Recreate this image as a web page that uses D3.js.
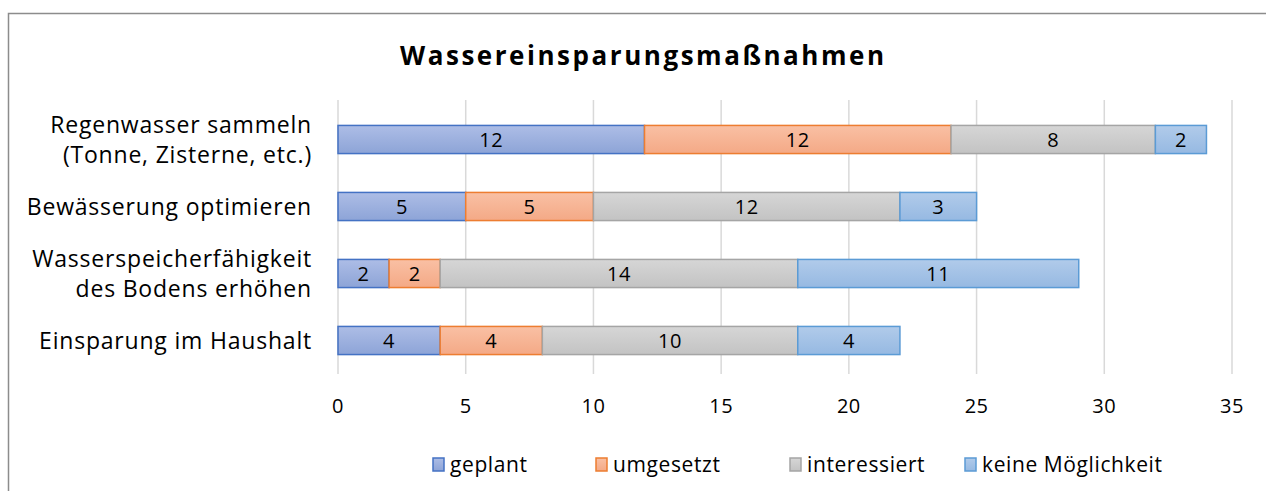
<!DOCTYPE html>
<meta charset="utf-8">
<style>
body { margin: 0; background: #fff; }
svg text { font-family: "Open Sans", "Noto Sans", sans-serif; fill: #000; }
.legend text { font-family: "Liberation Sans Narrow", "Open Sans", sans-serif; }
</style>
<svg width="1266" height="491"></svg>
<script src="https://cdn.jsdelivr.net/npm/d3@7"></script>
<script>
var categories = ["Regenwasser sammeln|(Tonne, Zisterne, etc.)", "Bewässerung optimieren", "Wasserspeicherfähigkeit|des Bodens erhöhen", "Einsparung im Haushalt"];
var seriesNames = ["geplant", "umgesetzt", "interessiert", "keine Möglichkeit"];
var geplant = [12, 5, 2, 4];
var umgesetzt = [12, 5, 2, 4];
var interessiert = [8, 12, 14, 10];
var keineMoeglichkeit = [2, 3, 11, 4];
var xTicks = [0, 5, 10, 15, 20, 25, 30, 35];

var fills = [["#adbde6", "#8da4d7"], ["#f9c0a4", "#f4a986"], ["#d6d6d6", "#c3c3c3"], ["#b1cbea", "#96b9e2"]];
var strokes = ["#4472c4", "#ed7d31", "#a5a5a5", "#5b9bd5"];

var svg = d3.select("svg");

// chart frame
svg.append("rect").attr("x", 8.5).attr("y", 13.5).attr("width", 1300).attr("height", 500)
  .attr("fill", "none").attr("stroke", "#8c8c8c").attr("stroke-width", 1.5);

var defs = svg.append("defs");
fills.forEach(function(f, i) {
  var g = defs.append("linearGradient").attr("id", "g" + i).attr("x1", 0).attr("y1", 0).attr("x2", 0).attr("y2", 1);
  g.append("stop").attr("offset", "0%").attr("stop-color", f[0]);
  g.append("stop").attr("offset", "100%").attr("stop-color", f[1]);
});

svg.append("text").attr("x", 642).attr("y", 65).attr("text-anchor", "middle")
  .attr("textLength", 484).attr("lengthAdjust", "spacing")
  .style("font-size", "26px").style("font-weight", "bold").text("Wassereinsparungsmaßnahmen");

var x = d3.scaleLinear().domain([0, 35]).range([338, 1232]);
var y = d3.scaleBand().domain(categories).range([106, 374]).paddingInner(0.58).paddingOuter(0.29);

// gridlines
svg.append("g").selectAll("line").data(xTicks).enter().append("line")
  .attr("x1", function(d) { return x(d); }).attr("x2", function(d) { return x(d); })
  .attr("y1", 100).attr("y2", 374)
  .attr("stroke", "#d9d9d9").attr("stroke-width", 1.5);

// tick labels
svg.append("g").selectAll("text").data(xTicks).enter().append("text")
  .attr("x", function(d) { return x(d); }).attr("y", 413).attr("text-anchor", "middle")
  .style("font-size", "20px").style("letter-spacing", "0.5px").text(function(d) { return d; });

// stack
var rows = categories.map(function(c, i) {
  return { cat: c, geplant: geplant[i], umgesetzt: umgesetzt[i], interessiert: interessiert[i], keine: keineMoeglichkeit[i] };
});
var stack = d3.stack().keys(["geplant", "umgesetzt", "interessiert", "keine"])(rows);

var layers = svg.append("g").selectAll("g").data(stack).enter().append("g");
layers.selectAll("rect").data(function(d, i) { return d.map(function(p) { return { p: p, s: i }; }); })
  .enter().append("rect")
  .attr("x", function(d) { return x(d.p[0]); })
  .attr("y", function(d) { return y(d.p.data.cat); })
  .attr("width", function(d) { return x(d.p[1]) - x(d.p[0]); })
  .attr("height", y.bandwidth())
  .attr("fill", function(d) { return "url(#g" + d.s + ")"; })
  .attr("stroke", function(d) { return strokes[d.s]; })
  .attr("stroke-width", 1.5);
layers.selectAll("text").data(function(d) { return d; }).enter().append("text")
  .attr("x", function(d) { return (x(d[0]) + x(d[1])) / 2; })
  .attr("y", function(d) { return y(d.data.cat) + y.bandwidth() / 2 + 7; })
  .attr("text-anchor", "middle").style("font-size", "20px").style("letter-spacing", "0.5px")
  .text(function(d) { return d[1] - d[0]; });

// category labels (one text per line)
var labelLines = [];
categories.forEach(function(c) {
  var parts = c.split("|");
  parts.forEach(function(p, j) {
    var off = parts.length === 1 ? 0 : (j === 0 ? -15 : 15);
    labelLines.push({ cat: c, text: p, off: off });
  });
});
svg.append("g").selectAll("text").data(labelLines).enter().append("text")
  .attr("text-anchor", "end").attr("x", 312)
  .attr("y", function(d) { return y(d.cat) + y.bandwidth() / 2 + d.off + 8; })
  .style("font-size", "23px").style("letter-spacing", "0.8px")
  .text(function(d) { return d.text; });

// legend
var lx = [433, 596, 790, 965];
var lg = svg.append("g").attr("class", "legend").selectAll("g").data(seriesNames).enter().append("g")
  .attr("transform", function(d, i) { return "translate(" + lx[i] + ",458)"; });
lg.append("rect").attr("width", 11).attr("height", 13)
  .attr("fill", function(d, i) { return "url(#g" + i + ")"; })
  .attr("stroke", function(d, i) { return strokes[i]; }).attr("stroke-width", 1.5);
lg.append("text").attr("x", 17).attr("y", 14).style("font-size", "21px").style("letter-spacing", "0.6px")
  .text(function(d) { return d; });
</script>
